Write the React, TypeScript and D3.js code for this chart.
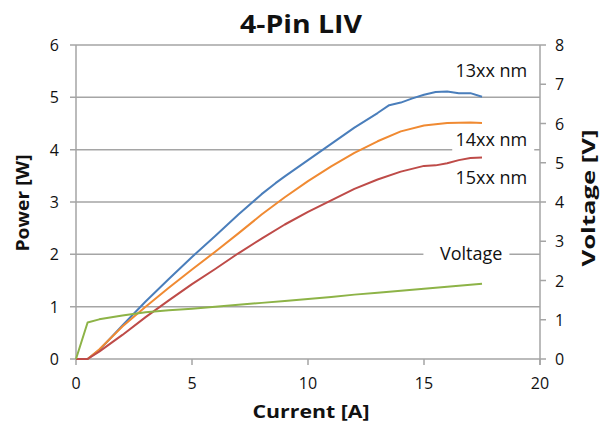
import React from "react";
import * as d3 from "d3";

const title = "4-Pin LIV";
const xTicks = [0, 5, 10, 15, 20];
const powerTicks = [0, 1, 2, 3, 4, 5, 6];
const voltTicks = [0, 1, 2, 3, 4, 5, 6, 7, 8];

const current13 = [0, 0.5, 1, 2, 3, 4, 5, 6, 7, 8, 8.6, 9, 10, 11, 12, 13, 13.5, 14, 14.5, 15, 15.5, 16, 16.5, 17, 17.5];
const power13 = [0, 0, 0.17, 0.64, 1.1, 1.53, 1.95, 2.35, 2.76, 3.15, 3.36, 3.49, 3.8, 4.11, 4.42, 4.7, 4.85, 4.9, 4.98, 5.05, 5.1, 5.11, 5.08, 5.08, 5.01];

const current14 = [0, 0.5, 1, 2, 3, 4, 5, 6, 7, 8, 9, 10, 11, 12, 13, 14, 15, 16, 17, 17.5];
const power14 = [0, 0, 0.18, 0.62, 1.0, 1.36, 1.71, 2.05, 2.4, 2.76, 3.09, 3.4, 3.68, 3.94, 4.16, 4.35, 4.46, 4.51, 4.52, 4.51];

const current15 = [0, 0.5, 1, 2, 3, 4, 5, 6, 7, 8, 9, 10, 11, 12, 13, 14, 15, 15.5, 16, 16.5, 17, 17.5];
const power15 = [0, 0, 0.14, 0.46, 0.8, 1.12, 1.43, 1.72, 2.02, 2.3, 2.57, 2.81, 3.03, 3.25, 3.43, 3.58, 3.69, 3.7, 3.74, 3.8, 3.84, 3.85];

const currentV = [0, 0.5, 1, 2, 3, 4, 5, 6, 7, 8, 9, 10, 11, 12, 13, 14, 15, 16, 17, 17.5];
const voltage = [0, 0.93, 1.01, 1.11, 1.19, 1.24, 1.28, 1.33, 1.38, 1.43, 1.48, 1.53, 1.58, 1.64, 1.69, 1.74, 1.79, 1.84, 1.89, 1.92];

const seriesLabels = ["13xx nm", "14xx nm", "15xx nm", "Voltage"];
const labelX = [19.45, 19.45, 19.45, 18.38];
const labelY = [5.39, 4.07, 3.34, 1.89];

const colors = ["#4a7ebb", "#f08a32", "#be4b48", "#8db347"];

export default function App() {
  const W = 602, H = 422;
  const x = d3.scaleLinear().domain([0, 20]).range([76, 540]);
  const yP = d3.scaleLinear().domain([0, 6]).range([359, 45]);
  const yV = d3.scaleLinear().domain([0, 8]).range([359, 45]);
  const lineP = d3.line<[number, number]>().x(d => x(d[0])).y(d => yP(d[1]));
  const lineV = d3.line<[number, number]>().x(d => x(d[0])).y(d => yV(d[1]));
  const zip = (a: number[], b: number[]) => a.map((v, i) => [v, b[i]] as [number, number]);
  const grid = "#a5a5a5";
  const font = "'Open Sans', sans-serif";
  const paths = [
    lineP(zip(current13, power13)),
    lineP(zip(current14, power14)),
    lineP(zip(current15, power15)),
    lineV(zip(currentV, voltage)),
  ];
  const labelWidths = [82, 82, 82, 86];
  return (
    <div style={{ position: "absolute", left: 0, top: 0 }}>
      <svg width={W} height={H} style={{ display: "block", background: "#fff" }}>
        <text x={301} y={33} textAnchor="middle" fontFamily={font} fontWeight={700} fontSize={25} textLength={122} lengthAdjust="spacingAndGlyphs" fill="#111">{title}</text>
        {powerTicks.map(t => (
          <g key={"p" + t}>
            <line x1={70} x2={540} y1={yP(t)} y2={yP(t)} stroke={grid} strokeWidth={1.5} />
            <text x={59} y={yP(t) + 6} textAnchor="end" fontFamily={font} fontSize={16} fill="#111">{t}</text>
          </g>
        ))}
        {voltTicks.map(t => (
          <g key={"v" + t}>
            <line x1={540} x2={546} y1={yV(t)} y2={yV(t)} stroke={grid} strokeWidth={1.5} />
            <text x={555} y={yV(t) + 6} textAnchor="start" fontFamily={font} fontSize={16} fill="#111">{t}</text>
          </g>
        ))}
        {xTicks.map(t => (
          <g key={"x" + t}>
            <line x1={x(t)} x2={x(t)} y1={359} y2={365} stroke={grid} strokeWidth={1.5} />
            <text x={x(t)} y={389} textAnchor="middle" fontFamily={font} fontSize={16} fill="#111">{t}</text>
          </g>
        ))}
        <line x1={76} x2={76} y1={45} y2={359} stroke={grid} strokeWidth={1.5} />
        <line x1={540} x2={540} y1={45} y2={365} stroke={grid} strokeWidth={1.5} />
        {paths.map((d, i) => (
          <path key={"s" + i} d={d || ""} fill="none" stroke={colors[i]} strokeWidth={2} strokeLinejoin="round" />
        ))}
        {seriesLabels.map((s, i) => (
          <g key={"l" + i}>
            <rect x={x(labelX[i]) - labelWidths[i] + 7} y={yP(labelY[i]) - 17} width={labelWidths[i]} height={22} fill="#fff" />
            <text x={x(labelX[i])} y={yP(labelY[i])} textAnchor="end" fontFamily={font} fontSize={18} fill="#111">{s}</text>
          </g>
        ))}
        <text x={311} y={418} textAnchor="middle" fontFamily={font} fontWeight={700} fontSize={18} textLength={117} lengthAdjust="spacingAndGlyphs" fill="#111">Current [A]</text>
        <text transform={`translate(29,203) rotate(-90)`} textAnchor="middle" fontFamily={font} fontWeight={700} fontSize={18} textLength={97} lengthAdjust="spacingAndGlyphs" fill="#111">Power [W]</text>
        <text transform={`translate(595,198) rotate(-90)`} textAnchor="middle" fontFamily={font} fontWeight={700} fontSize={18} textLength={137} lengthAdjust="spacingAndGlyphs" fill="#111">Voltage [V]</text>
      </svg>
    </div>
  );
}
